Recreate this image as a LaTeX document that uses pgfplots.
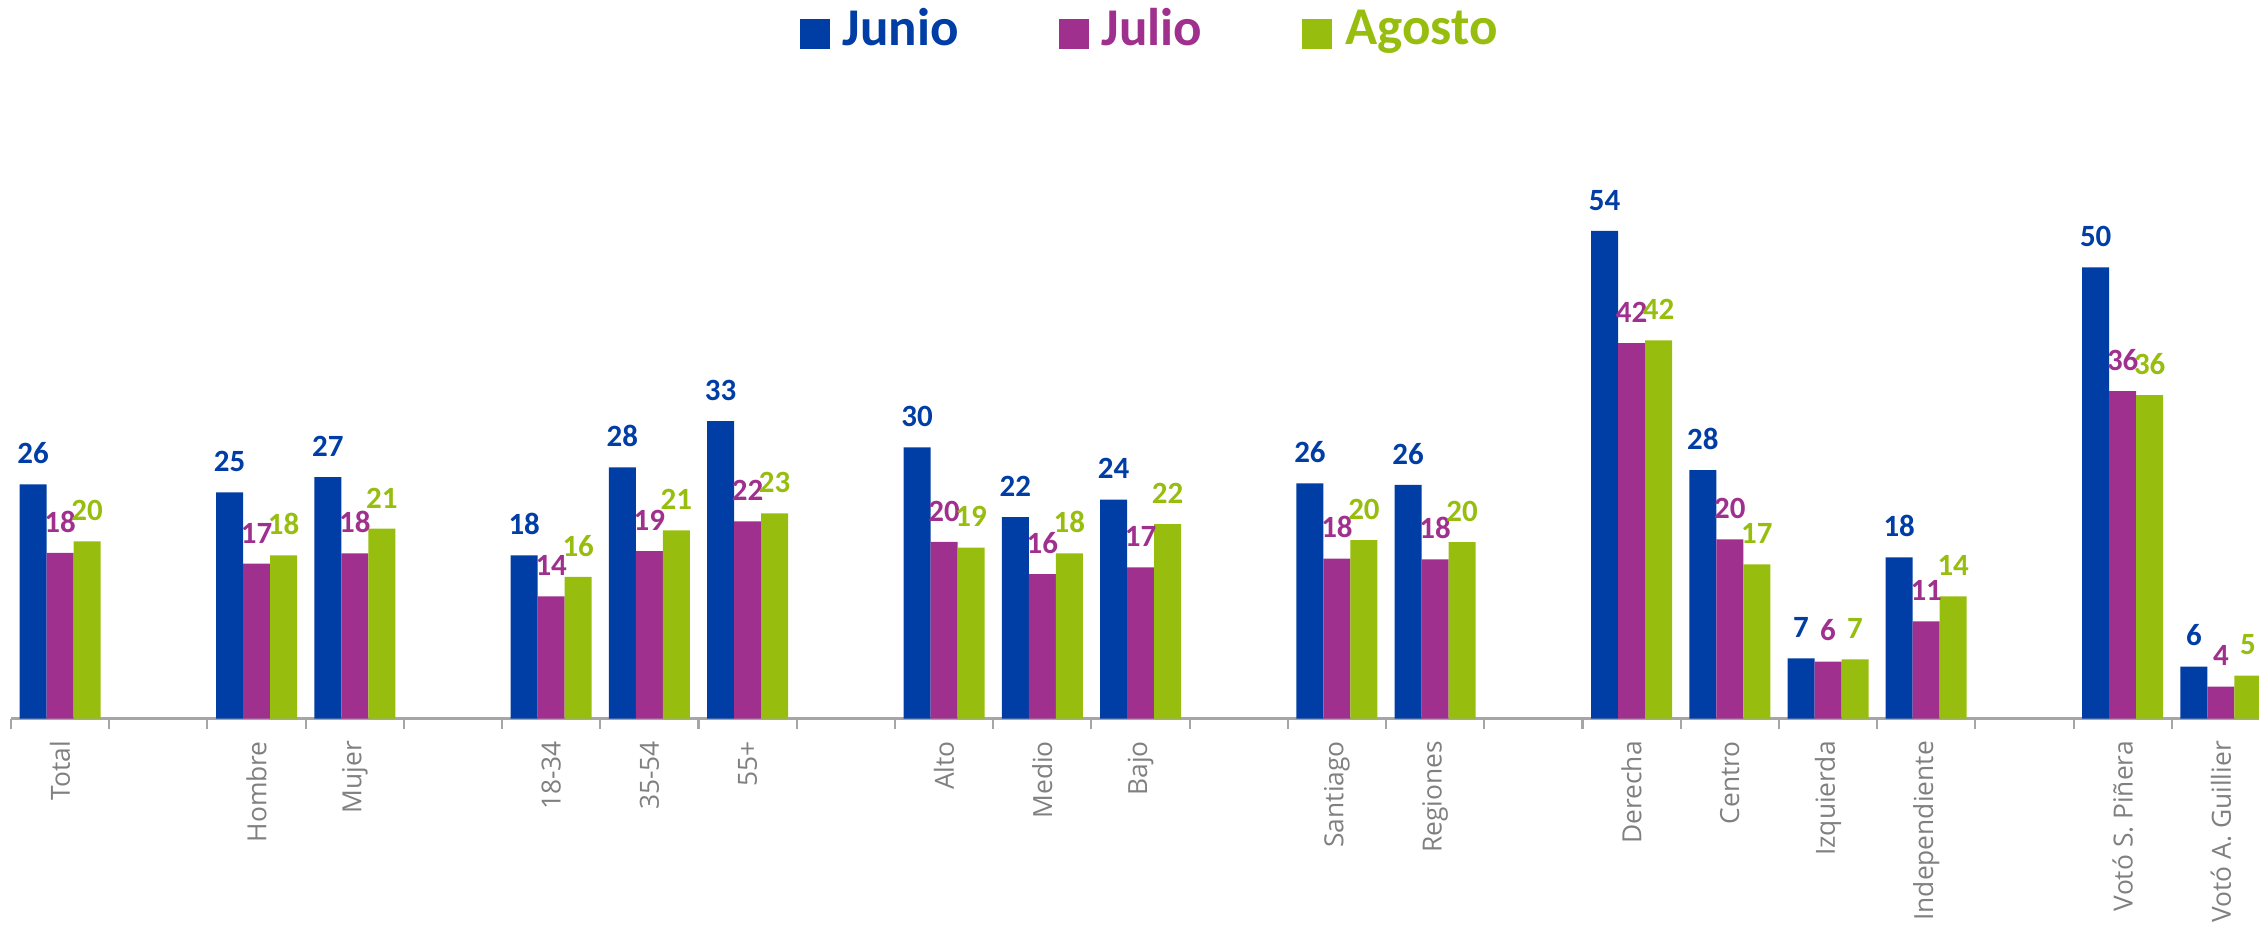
\documentclass[border=0pt]{standalone}
\usepackage{pgfplots}
\pgfplotsset{compat=1.18}
\usepackage{pgfplotstable}
\usepackage{fontspec}
\setmainfont{Carlito}
\newfontfamily\tickfont{Open Sans}
\definecolor{cjun}{RGB}{0,61,165}
\definecolor{cjul}{RGB}{160,48,142}
\definecolor{cago}{RGB}{151,189,14}
\definecolor{axgray}{RGB}{166,166,166}
\definecolor{txgray}{RGB}{128,128,128}

\pgfplotstableread{
x  j     jl u     ul a     al
0  25.96 26 18.35 18 19.64 20
2  25.08 25 17.16 17 18.09 18
3  26.77 27 18.31 18 21.04 21
5  18.09 18 13.55 14 15.69 16
6  27.85 28 18.57 19 20.86 21
7  32.98 33 21.86 22 22.75 23
9  30.06 30 19.57 20 18.94 19
10 22.34 22 16.02 16 18.31 18
11 24.26 24 16.76 17 21.56 22
13 26.07 26 17.72 18 19.79 20
14 25.89 26 17.65 18 19.55 20
16 54.05 54 41.63 42 41.93 42
17 27.55 28 19.87 20 17.09 17
18 6.67  7  6.30  6  6.55  7
19 17.87 18 10.78 11 13.55 14
21 50.02 50 36.31 36 35.86 36
22 5.75  6  3.53  4  4.75  5
}\datatable

\begin{document}
\begin{tikzpicture}
\begin{axis}[
  at={(0,0)}, anchor=south west,
  scale only axis, width=22.59cm, height=5.412cm,
  xmin=-0.5, xmax=22.5, ymin=0, ymax=60,
  ybar=0pt, bar width=0.27cm,
  axis x line*=bottom, axis y line=none,
  axis line style={axgray, line width=0.6pt},
  xtick={0,2,3,5,6,7,9,10,11,13,14,16,17,18,19,21,22},
  xticklabels={Total,Hombre,Mujer,18-34,35-54,55+,Alto,Medio,Bajo,Santiago,Regiones,Derecha,Centro,Izquierda,Independiente,Votó S. Piñera,Votó A. Guillier},
  major tick length=0pt,
  minor xtick={-0.5,0.5,...,22.5},
  minor tick length=0.1cm,
  tick align=outside,
  minor tick style={axgray, line width=0.6pt},
  major tick style={draw=none},
  xticklabel style={rotate=90, anchor=east, inner sep=0pt, font=\tickfont\fontsize{7.5}{9}\selectfont, text=txgray},
  xticklabel shift=0.22cm,
  point meta=explicit symbolic,
  nodes near coords,
  every node near coord/.append style={anchor=south, inner sep=0pt, yshift=0.2cm, font=\bfseries\fontsize{8.8}{10}\selectfont},
  clip=false,
  legend columns=3,
  legend style={draw=none, fill=none, inner sep=0pt, anchor=west,
    at={(axis description cs:0.3488,1.273)},
    font=\bfseries\fontsize{15.1}{18}\selectfont,
    nodes={inner sep=0pt},
    /tikz/every odd column/.append style={column sep=0.13cm},
    /tikz/every even column/.append style={column sep=1.0cm}},
]
\addplot[fill=cjun, draw=none, every node near coord/.append style={text=cjun},
  legend image code/.code={\fill[cjun] (0cm,-0.19cm) rectangle (0.3cm,0.11cm);}]
  table[x=x, y=j, meta=jl] {\datatable};
\addlegendentry{\textcolor{cjun}{Junio}}
\addplot[fill=cjul, draw=none, every node near coord/.append style={text=cjul},
  legend image code/.code={\fill[cjul] (0cm,-0.19cm) rectangle (0.3cm,0.11cm);}]
  table[x=x, y=u, meta=ul] {\datatable};
\addlegendentry{\textcolor{cjul}{Julio}}
\addplot[fill=cago, draw=none, every node near coord/.append style={text=cago},
  legend image code/.code={\fill[cago] (0cm,-0.19cm) rectangle (0.3cm,0.11cm);}]
  table[x=x, y=a, meta=al] {\datatable};
\addlegendentry{\textcolor{cago}{Agosto}}
\end{axis}
\pgfresetboundingbox
\path[use as bounding box] (-0.11cm,-2.215cm) rectangle (22.48cm,7.185cm);
\end{tikzpicture}
\end{document}
